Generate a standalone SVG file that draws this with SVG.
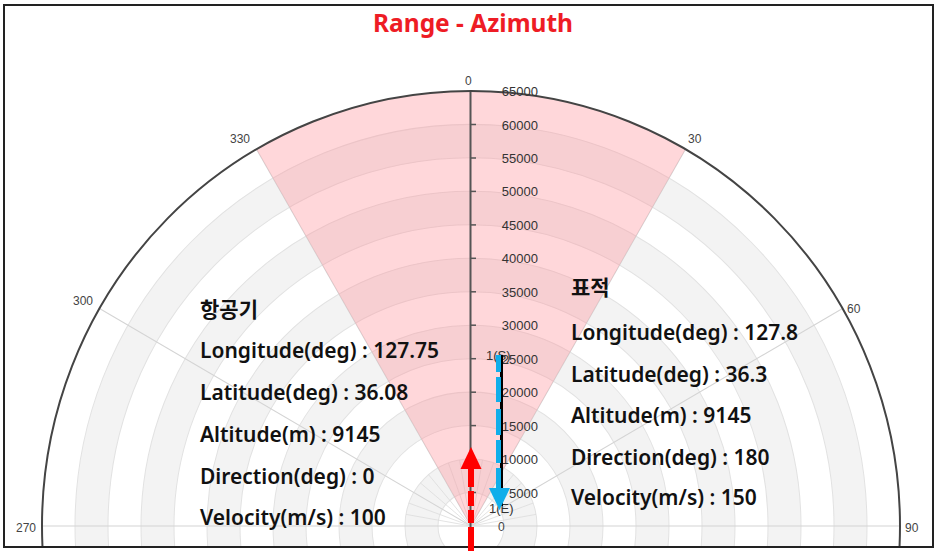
<svg xmlns="http://www.w3.org/2000/svg" width="937" height="551" viewBox="0 0 937 551">
<defs>
<clipPath id="frameClip"><rect x="5" y="6" width="927" height="540"/></clipPath>
<style>
.band{fill:none;stroke:#f3f3f3;stroke-width:33}
.ring{fill:none;stroke:#e2e2e2;stroke-width:1}
.spoke{stroke:#d4d4d4;stroke-width:1}
.minor{stroke:#dcdcdc;stroke-width:0.8}
.ang{font-family:"Liberation Sans",Arial,sans-serif;font-size:12px;fill:#444}
.rng{font-family:"Liberation Sans",Arial,sans-serif;font-size:13px;fill:#333;text-anchor:end}
.info{font-family:"Noto Sans","Noto Sans CJK KR",sans-serif;font-size:21px;font-weight:600;fill:#111}
.tick{stroke:#555;stroke-width:1.5}
</style>
</defs>
<rect x="0" y="0" width="937" height="551" fill="#fff"/>
<g id="chart" clip-path="url(#frameClip)">
  <g transform="translate(471,526) scale(1,1.0142)">
    <circle class="band" r="49.5"/>
    <circle class="band" r="115.5"/>
    <circle class="band" r="181.5"/>
    <circle class="band" r="247.5"/>
    <circle class="band" r="313.5"/>
    <circle class="band" r="379.5"/>
    <circle class="ring" r="33"/><circle class="ring" r="66"/><circle class="ring" r="99"/>
    <circle class="ring" r="132"/><circle class="ring" r="165"/><circle class="ring" r="198"/>
    <circle class="ring" r="231"/><circle class="ring" r="264"/><circle class="ring" r="297"/>
    <circle class="ring" r="330"/><circle class="ring" r="363"/><circle class="ring" r="396"/>
    <line class="spoke" x1="0" y1="0" x2="-371.5" y2="-214.5"/>
    <line class="spoke" x1="0" y1="0" x2="371.5" y2="-214.5"/>
    <line class="spoke" x1="0" y1="0" x2="-214.5" y2="-371.5"/>
    <line class="spoke" x1="0" y1="0" x2="214.5" y2="-371.5"/>
    <line class="spoke" x1="-429" y1="0" x2="429" y2="0"/>
    <g class="minor">
      <line x1="0" y1="0" x2="11.46" y2="-65"/><line x1="0" y1="0" x2="-11.46" y2="-65"/>
      <line x1="0" y1="0" x2="22.57" y2="-62.02"/><line x1="0" y1="0" x2="-22.57" y2="-62.02"/>
      <line x1="0" y1="0" x2="42.42" y2="-50.56"/><line x1="0" y1="0" x2="-42.42" y2="-50.56"/>
      <line x1="0" y1="0" x2="50.56" y2="-42.42"/><line x1="0" y1="0" x2="-50.56" y2="-42.42"/>
      <line x1="0" y1="0" x2="62.02" y2="-22.57"/><line x1="0" y1="0" x2="-62.02" y2="-22.57"/>
      <line x1="0" y1="0" x2="65" y2="-11.46"/><line x1="0" y1="0" x2="-65" y2="-11.46"/>
    </g>
    <path id="sector" d="M0,0 L-214.5,-371.53 A429,429 0 0 1 214.5,-371.53 Z" fill="#ff8c96" fill-opacity="0.35"/>
    <circle r="429" fill="none" stroke="#444" stroke-width="2"/>
  </g>
  <line x1="470.5" y1="92" x2="470.5" y2="547" stroke="#555" stroke-width="2"/>
  <g id="ticks">
    <line class="tick" x1="471" y1="124.5" x2="476" y2="124.5"/>
    <line class="tick" x1="471" y1="158" x2="476" y2="158"/>
    <line class="tick" x1="471" y1="191.4" x2="476" y2="191.4"/>
    <line class="tick" x1="471" y1="224.9" x2="476" y2="224.9"/>
    <line class="tick" x1="471" y1="258.3" x2="476" y2="258.3"/>
    <line class="tick" x1="471" y1="291.8" x2="476" y2="291.8"/>
    <line class="tick" x1="471" y1="325.2" x2="476" y2="325.2"/>
    <line class="tick" x1="471" y1="358.7" x2="476" y2="358.7"/>
    <line class="tick" x1="471" y1="392.2" x2="476" y2="392.2"/>
    <line class="tick" x1="471" y1="425.6" x2="476" y2="425.6"/>
    <line class="tick" x1="471" y1="459.1" x2="476" y2="459.1"/>
    <line class="tick" x1="471" y1="492.5" x2="476" y2="492.5"/>
  </g>
</g>
<rect x="4" y="5" width="929" height="542" fill="none" stroke="#222" stroke-width="2"/>
<text x="473" y="32" text-anchor="middle" font-family="'Noto Sans',sans-serif" font-weight="700" font-size="24.5" fill="#ee1c25">Range - Azimuth</text>
<g id="angle-labels">
  <text class="ang" x="465" y="85">0</text>
  <text class="ang" x="230" y="143">330</text>
  <text class="ang" x="688" y="143">30</text>
  <text class="ang" x="73" y="305">300</text>
  <text class="ang" x="847" y="313">60</text>
  <text class="ang" x="16" y="532">270</text>
  <text class="ang" x="905" y="532">90</text>
</g>
<g id="range-labels">
  <text class="rng" x="538" y="96">65000</text>
  <text class="rng" x="538" y="129.5">60000</text>
  <text class="rng" x="538" y="163">55000</text>
  <text class="rng" x="538" y="196.4">50000</text>
  <text class="rng" x="538" y="229.9">45000</text>
  <text class="rng" x="538" y="263.3">40000</text>
  <text class="rng" x="538" y="296.8">35000</text>
  <text class="rng" x="538" y="330.2">30000</text>
  <text class="rng" x="538" y="363.7">25000</text>
  <text class="rng" x="538" y="397.2">20000</text>
  <text class="rng" x="538" y="430.6">15000</text>
  <text class="rng" x="538" y="464.1">10000</text>
  <text class="rng" x="538" y="497.5">5000</text>
  <text class="ang" x="498" y="531" font-size="13">0</text>
</g>
<g id="aircraft-info">
  <text class="info" x="200" y="317">항공기</text>
  <text class="info" x="200" y="358">Longitude(deg) : 127.75</text>
  <text class="info" x="200" y="400">Latitude(deg) : 36.08</text>
  <text class="info" x="200" y="442">Altitude(m) : 9145</text>
  <text class="info" x="200" y="484">Direction(deg) : 0</text>
  <text class="info" x="200" y="525">Velocity(m/s) : 100</text>
</g>
<g id="target-info">
  <text class="info" x="571" y="295">표적</text>
  <text class="info" x="571" y="340">Longitude(deg) : 127.8</text>
  <text class="info" x="571" y="382">Latitude(deg) : 36.3</text>
  <text class="info" x="571" y="423">Altitude(m) : 9145</text>
  <text class="info" x="571" y="465">Direction(deg) : 180</text>
  <text class="info" x="571" y="505">Velocity(m/s) : 150</text>
</g>
<g id="connectors">
  <g id="aircraft-arrow">
    <path d="M471,551 L471,466" stroke="#ff0000" stroke-width="6" fill="none" stroke-dasharray="24 4 13 4 15 4 40"/>
    <polygon points="471,447 481.5,469 460.5,469" fill="#ff0000"/>
  </g>
  <g id="target-arrow">
    <text x="486" y="360" font-family="'Liberation Sans',Arial,sans-serif" font-size="13" fill="#333">1(S)</text>
    <text x="489" y="513" font-family="'Liberation Sans',Arial,sans-serif" font-size="13" fill="#333">1(E)</text>
    <line x1="501.5" y1="355" x2="501.5" y2="506" stroke="#000" stroke-width="3"/>
    <path d="M498.5,355 L498.5,490" stroke="#10aeea" stroke-width="5" fill="none" stroke-dasharray="17 5 25 7 26 5 23 5 40"/>
    <polygon points="489,488 510,488 499.5,510" fill="#10aeea"/>
  </g>
</g>
</svg>
